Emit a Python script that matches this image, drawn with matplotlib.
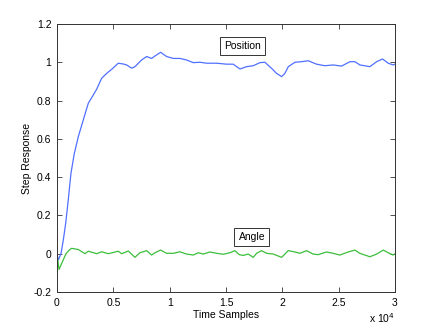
import matplotlib
matplotlib.use("Agg")
import matplotlib.pyplot as plt
from matplotlib.ticker import FuncFormatter

plt.rcParams["font.family"] = ["Liberation Sans", "DejaVu Sans"]

# step response (x in time samples)
position_x = [0, 115, 355, 560, 770, 1000, 1240, 1540, 1890, 2330, 2780, 3220,
              3520, 3960, 4410, 4850, 5440, 5880, 6180, 6630, 6920, 7070, 7510,
              7960, 8400, 8700, 9200, 9730, 10320, 10910, 11500, 12100, 12690,
              13280, 14170, 15060, 15640, 16240, 16830, 17420, 18010, 18460,
              19050, 19490, 19940, 20230, 20530, 21120, 21710, 22300, 23040,
              23780, 24520, 25260, 26000, 26440, 26890, 27770, 28370, 28900,
              29400, 29840, 30000]
position_y = [0.0, -0.033, 0.0, 0.071, 0.158, 0.28, 0.42, 0.524, 0.611, 0.698,
              0.786, 0.829, 0.859, 0.916, 0.942, 0.963, 0.995, 0.991, 0.986,
              0.969, 0.977, 0.986, 1.012, 1.03, 1.02, 1.033, 1.052, 1.03, 1.02,
              1.02, 1.012, 0.998, 1.0, 0.995, 0.995, 0.99, 0.99, 0.965, 0.977,
              0.982, 0.998, 1.0, 0.968, 0.942, 0.925, 0.942, 0.977, 1.0, 1.003,
              1.008, 0.99, 0.982, 0.986, 0.98, 1.003, 1.003, 0.986, 0.977,
              1.003, 1.017, 0.995, 0.986, 0.99]

angle_x = [0, 180, 500, 800, 1100, 1300, 1890, 2480, 2780, 3520, 3960, 4560,
           5440, 5740, 6330, 6920, 7360, 7960, 8400, 8700, 9200, 9730, 10320,
           10910, 11500, 12100, 12540, 12980, 13580, 14170, 14760, 15350,
           15790, 16180, 16530, 16980, 17420, 17720, 18160, 18610, 19200,
           19940, 20530, 21120, 21560, 22150, 22740, 23180, 23920, 24520,
           25110, 25850, 26440, 26880, 27770, 28370, 28960, 29400, 29840, 30000]
angle_y = [0.0, -0.082, -0.04, 0.0, 0.02, 0.028, 0.022, 0.0, 0.013, 0.0, 0.01,
           0.0, 0.013, 0.0, 0.014, -0.019, 0.005, 0.016, -0.007, 0.005, 0.019,
           0.002, 0.002, 0.01, -0.002, -0.007, 0.005, -0.002, 0.009, 0.002,
           -0.003, 0.005, 0.016, -0.005, -0.009, -0.002, -0.019, 0.002, 0.016,
           0.002, -0.002, -0.019, 0.016, 0.009, 0.002, 0.016, -0.002, -0.005,
           0.009, 0.002, -0.007, 0.009, 0.019, 0.002, -0.016, -0.002, 0.019,
           0.005, -0.007, 0.0]

x_ticks = [0, 5000, 10000, 15000, 20000, 25000, 30000]
y_ticks = [-0.2, 0, 0.2, 0.4, 0.6, 0.8, 1, 1.2]

fig = plt.figure(figsize=(4.36, 3.28), dpi=100)
ax = fig.add_axes([0.1307, 0.1098, 0.7752, 0.8171])

ax.plot(position_x, position_y, color="#5070ff", linewidth=0.9)
ax.plot(angle_x, angle_y, color="#3cbf3c", linewidth=0.9)

ax.set_xlim(0, 30000)
ax.set_ylim(-0.2, 1.2)
ax.set_xticks(x_ticks)
ax.set_yticks(y_ticks)
ax.xaxis.set_major_formatter(FuncFormatter(lambda v, p: f"{v / 1e4:g}"))
ax.yaxis.set_major_formatter(FuncFormatter(lambda v, p: f"{v:g}"))
ax.tick_params(direction="in", top=True, right=True, length=3.5, width=0.6,
               labelsize=7.5, pad=4, color="#333333")
for spine in ax.spines.values():
    spine.set_linewidth(0.7)
    spine.set_color("#333333")

ax.set_xlabel("Time Samples", fontsize=7.5, labelpad=2)
ax.set_ylabel("Step Response", fontsize=7.5, labelpad=1)
ax.text(1.0, -0.07, r"x 10$^4$", transform=ax.transAxes, fontsize=7.5,
        ha="right", va="top")

box = dict(boxstyle="square,pad=0.4", facecolor="white", edgecolor="#333333",
           linewidth=0.7)
ax.text(16500, 1.085, "Position", fontsize=7.5, ha="center", va="center", bbox=box)
ax.text(17300, 0.088, "Angle", fontsize=7.5, ha="center", va="center", bbox=box)

fig.savefig("out.png", dpi=100)
